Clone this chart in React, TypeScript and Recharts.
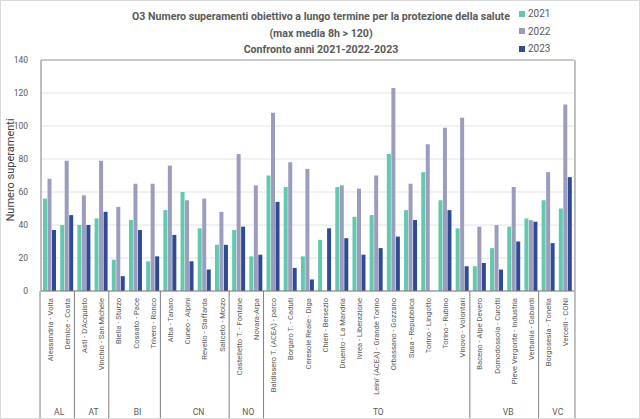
import React from 'react';
import { BarChart, Bar, XAxis, YAxis, CartesianGrid, ReferenceLine, Legend } from 'recharts';

const stations = [
  'Alessandria - Volta', 'Dernice - Costa', "Asti - D'Acquisto", 'Vinchio - San Michele',
  'Biella - Sturzo', 'Cossato - Pace', 'Trivero - Ronco',
  'Alba - Tanaro', 'Cuneo - Alpini', 'Revello - Staffarda', 'Saliceto - Moizo',
  'Castelletto T. - Fontane', 'Novara-Arpa',
  'Baldissero T. (ACEA) - parco', 'Borgaro T. - Caduti', 'Ceresole Reale - Diga', 'Chieri - Bersezio',
  'Druento - La Mandria', 'Ivrea - Liberazione', "Leini' (ACEA) - Grande Torino", 'Orbassano - Gozzano',
  'Susa - Repubblica', 'Torino - Lingotto', 'Torino - Rubino', 'Vinovo - Volontari',
  'Baceno - Alpe Devero', 'Domodossola - Curotti', 'Pieve Vergonte - Industria', 'Verbania - Gabardi',
  'Borgosesia - Tonella', 'Vercelli - CONI',
];
const provinces = [
  'AL', 'AL', 'AT', 'AT', 'BI', 'BI', 'BI', 'CN', 'CN', 'CN', 'CN', 'NO', 'NO',
  'TO', 'TO', 'TO', 'TO', 'TO', 'TO', 'TO', 'TO', 'TO', 'TO', 'TO', 'TO',
  'VB', 'VB', 'VB', 'VB', 'VC', 'VC',
];
const v2021 = [56, 40, 40, 44, 19, 43, 18, 49, 60, 38, 28, 37, 21, 70, 63, 21, 31, 63, 45, 46, 83, 49, 72, 55, 38, 15, 26, 39, 44, 55, 50];
const v2022 = [68, 79, 58, 79, 51, 65, 65, 76, 55, 56, 48, 83, 64, 108, 78, 74, null, 64, 62, 70, 123, 65, 89, 99, 105, 39, 40, 63, 43, 72, 113];
const v2023 = [37, 46, 40, 48, 9, 37, 21, 34, 18, 13, 28, 39, 22, 54, 14, 7, 38, 32, 22, 26, 33, 43, null, 49, 15, 17, 13, 30, 42, 29, 69];
const yTicks = [0, 20, 40, 60, 80, 100, 120, 140];
const seriesNames = ['2021', '2022', '2023'];
const colors = ['#63c9ae', '#9c9cbf', '#2f4b95'];

const data = stations.map((s, i) => ({
  name: s,
  prov: provinces[i],
  y2021: v2021[i],
  y2022: v2022[i],
  y2023: v2023[i],
}));

const W = 640;
const H = 419;
const M_TOP = 59;
const M_RIGHT = 7;
const Y_W = 40;
const BAND = (W - M_RIGHT - Y_W) / stations.length;
const BOTTOM = 417;
const FONT = "'Roboto', 'Liberation Sans', sans-serif";

function CatTick(props: any) {
  const { x, y, payload, index } = props;
  const axisY = y;
  const els: any[] = [];
  const p = provinces[index];
  const isFirst = index === 0 || provinces[index - 1] !== p;
  els.push(
    <text key="t" x={0} y={0} transform={`translate(${x + 3},${axisY + 7}) rotate(-90)`} textAnchor="end"
      fontSize={7.6} fill="#595959" fontFamily={FONT}>{payload.value}</text>
  );
  if (isFirst) {
    let count = 0;
    for (let j = index; j < provinces.length && provinces[j] === p; j++) count++;
    const left = x - BAND / 2;
    els.push(<line key="l" x1={left} x2={left} y1={axisY} y2={BOTTOM} stroke="#7f7f7f" strokeWidth={1} />);
    els.push(
      <text key="g" x={left + (count * BAND) / 2} y={BOTTOM - 3} textAnchor="middle" fontSize={8.5}
        fill="#595959" fontFamily={FONT}>{p}</text>
    );
  }
  if (index === provinces.length - 1) {
    const right = x + BAND / 2;
    els.push(<line key="r" x1={right} x2={right} y1={M_TOP} y2={BOTTOM} stroke="#7f7f7f" strokeWidth={1} />);
  }
  return <g>{els}</g>;
}

function LegendContent() {
  return (
    <div style={{ fontFamily: FONT, fontSize: 10, color: '#595959' }}>
      {seriesNames.map((n, i) => (
        <div key={n} style={{ display: 'flex', alignItems: 'center', height: 17.5 }}>
          <span style={{ display: 'inline-block', width: 6, height: 6, background: colors[i], marginRight: 3 }} />
          <span>{n}</span>
        </div>
      ))}
    </div>
  );
}

const titleStyle = { fontSize: 10.6, fontWeight: 'bold' as const, fill: '#595959', fontFamily: FONT };

export default function App() {
  return (
    <div style={{ position: 'absolute', left: 0, top: 0, width: W, height: H, background: '#fff',
      border: '1px solid #d9d9d9', boxSizing: 'border-box' }}>
      <div style={{ position: 'absolute', left: 0, top: 0 }}>
        <BarChart width={W} height={H} data={data} margin={{ top: M_TOP, right: M_RIGHT, left: 0, bottom: 0 }}
          barSize={4} barGap={0.5} barCategoryGap={0}>
          <text x={320} y={19} textAnchor="middle" {...titleStyle}>
            O3 Numero superamenti obiettivo a lungo termine per la protezione della salute
          </text>
          <text x={320} y={36} textAnchor="middle" {...titleStyle}>
            (max media 8h &gt; 120)
          </text>
          <text x={320} y={52} textAnchor="middle" {...titleStyle}>
            Confronto anni 2021-2022-2023
          </text>
          <CartesianGrid vertical={false} stroke="#e4e4e4" />
          <XAxis dataKey="name" interval={0} tickLine={false} tickSize={0} tickMargin={0} height={H - 290}
            axisLine={{ stroke: '#7f7f7f' }} tick={<CatTick />} />
          <YAxis width={Y_W} domain={[0, 140]} ticks={yTicks} tickLine={false} axisLine={{ stroke: '#7f7f7f' }}
            tick={{ fontSize: 8.5, fill: '#595959', fontFamily: FONT }} tickMargin={7}
            label={{ value: 'Numero superamenti', angle: -90, position: 'insideLeft', dx: 4, dy: 46,
              style: { fontSize: 11, fill: '#404040', fontFamily: FONT } } as any} />
          <ReferenceLine y={140} stroke="#a0a0a0" />
          <Legend layout="vertical" verticalAlign="top" align="right" content={<LegendContent />}
            wrapperStyle={{ position: 'absolute', left: 518, top: 4, width: 60 }} />
          <Bar dataKey="y2021" name="2021" fill={colors[0]} isAnimationActive={false} />
          <Bar dataKey="y2022" name="2022" fill={colors[1]} isAnimationActive={false} />
          <Bar dataKey="y2023" name="2023" fill={colors[2]} isAnimationActive={false} />
        </BarChart>
      </div>
    </div>
  );
}
